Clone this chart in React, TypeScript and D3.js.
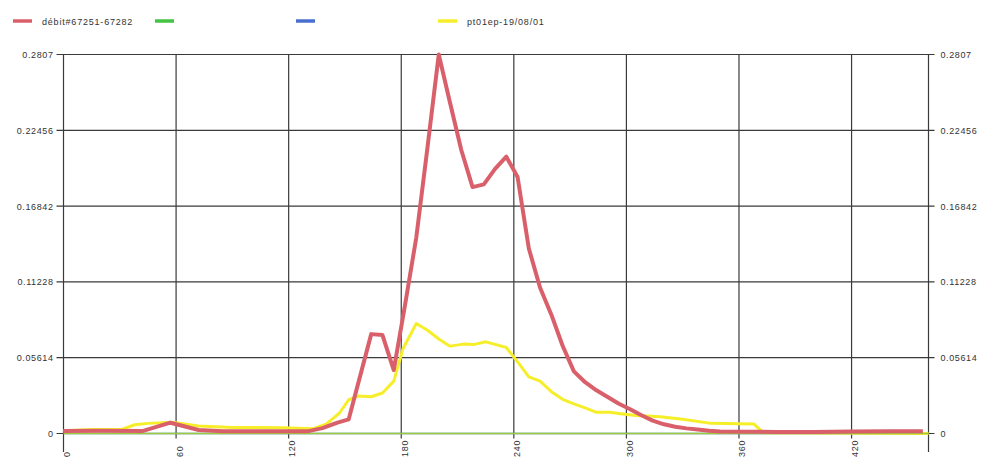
import React from "react";
import * as d3 from "d3";

// ---- data ----
const yTicks = [0, 0.05614, 0.11228, 0.16842, 0.22456, 0.2807];
const yTickLabels = ["0", "0.05614", "0.11228", "0.16842", "0.22456", "0.2807"];
const xTicks = [0, 60, 120, 180, 240, 300, 360, 420];
const xMax = 461;

const legendNames = ["débit#67251-67282", "", "", "pt01ep-19/08/01"];
const seriesColors = ["#d9606a", "#44c444", "#4a6fd0", "#f7ee2a"];

const redX = [0, 20, 42, 57, 72, 85, 130, 138, 146, 152, 164, 170, 176, 182, 188, 194, 200, 206, 212, 218, 224, 230, 236, 242, 248, 254, 260, 266, 272, 278, 284, 290, 296, 302, 308, 314, 320, 326, 332, 338, 344, 350, 380, 400, 420, 440, 458];
const redY = [0.0018, 0.002, 0.0018, 0.008, 0.0026, 0.0016, 0.0016, 0.004, 0.008, 0.0105, 0.0736, 0.0729, 0.047, 0.095, 0.145, 0.212, 0.2807, 0.245, 0.21, 0.1825, 0.1845, 0.196, 0.205, 0.19, 0.137, 0.108, 0.088, 0.065, 0.046, 0.038, 0.032, 0.027, 0.022, 0.018, 0.0135, 0.0095, 0.0068, 0.005, 0.0038, 0.003, 0.002, 0.0015, 0.0012, 0.0012, 0.0015, 0.0016, 0.0016];

const yellowX = [0, 15, 31, 38, 45, 58, 72, 90, 117, 133, 140, 147, 152, 157, 164, 170, 176, 181, 188, 194, 200, 206, 213, 219, 225, 230, 236, 242, 248, 254, 260, 266, 272, 278, 284, 291, 298, 305, 311, 318, 330, 345, 368, 373, 461];
const yellowY = [0.002, 0.003, 0.003, 0.0065, 0.0075, 0.0083, 0.0055, 0.0045, 0.0043, 0.0036, 0.007, 0.015, 0.025, 0.0277, 0.0272, 0.03, 0.0388, 0.063, 0.0815, 0.0765, 0.07, 0.0647, 0.0662, 0.066, 0.0679, 0.066, 0.0637, 0.053, 0.042, 0.0388, 0.031, 0.0253, 0.022, 0.019, 0.0157, 0.0157, 0.0144, 0.0133, 0.013, 0.0124, 0.0105, 0.0075, 0.007, 0.0005, 0];

const greenX = [0, 461];
const greenY = [0, 0];
const blueX = [0, 461];
const blueY = [0, 0];

// ---- layout ----
const W = 981;
const H = 460;
const left = 63.5;
const right = 928.5;
const top = 54.5;
const bottom = 433.5;

const font = "Arial, 'Liberation Sans', sans-serif";
const gridColor = "#3a3a3a";
const textColor = "#333";

export default function App() {
  const x = d3.scaleLinear().domain([0, xMax]).range([left, right]);
  const y = d3.scaleLinear().domain([0, 0.2807]).range([bottom, top]);

  const mk = (xs: number[], ys: number[]) =>
    d3
      .line<number>()
      .x((_, i) => x(xs[i]))
      .y((d) => y(d))(ys) || "";

  const legendX = [13, 155, 296, 438];

  return (
    <svg
      width={W}
      height={H}
      style={{ position: "absolute", left: 0, top: 0, background: "#fff" }}
      fontFamily={font}
    >
      <rect x={0} y={0} width={W} height={H} fill="#fff" />
      {/* legend */}
      {legendNames.map((n, i) => (
        <g key={i}>
          <line
            x1={legendX[i]}
            x2={legendX[i] + 19}
            y1={21}
            y2={21}
            stroke={seriesColors[i]}
            strokeWidth={3.5}
          />
          {n && (
            <text
              x={legendX[i] + 29}
              y={24.5}
              fontSize={9}
              letterSpacing={0.8}
              fill={textColor}
            >
              {n}
            </text>
          )}
        </g>
      ))}

      {/* horizontal grid + y ticks */}
      {yTicks.map((t, i) => (
        <g key={i}>
          <line
            x1={left - 7}
            x2={right + 6}
            y1={y(t)}
            y2={y(t)}
            stroke={gridColor}
            strokeWidth={1.2}
          />
          <text
            x={left - 10}
            y={y(t) + 3.5}
            fontSize={9}
            letterSpacing={0.6}
            textAnchor="end"
            fill={textColor}
          >
            {yTickLabels[i]}
          </text>
          <text
            x={right + 12}
            y={y(t) + 3.5}
            fontSize={9}
            letterSpacing={0.6}
            fill={textColor}
          >
            {yTickLabels[i]}
          </text>
        </g>
      ))}

      {/* vertical grid + x ticks */}
      {xTicks.map((t, i) => (
        <g key={i}>
          <line
            x1={x(t)}
            x2={x(t)}
            y1={top}
            y2={t === 0 ? 452 : bottom + 5}
            stroke={gridColor}
            strokeWidth={1.2}
          />
          <text
            transform={`translate(${x(t) + 6.5},457) rotate(-90)`}
            fontSize={9}
            letterSpacing={0.8}
            fill={textColor}
          >
            {t}
          </text>
        </g>
      ))}
      <line x1={right} x2={right} y1={top} y2={452} stroke={gridColor} strokeWidth={1.2} />

      {/* series */}
      <path d={mk(blueX, blueY)} fill="none" stroke={seriesColors[2]} strokeWidth={1.5} />
      <path
        d={mk(yellowX, yellowY)}
        fill="none"
        stroke={seriesColors[3]}
        strokeWidth={3}
        strokeLinejoin="round"
      />
      <path d={mk(greenX, greenY)} fill="none" stroke="#9ccc3c" strokeWidth={1.5} />
      <path
        d={mk(redX, redY)}
        fill="none"
        stroke={seriesColors[0]}
        strokeWidth={4}
        strokeLinejoin="round"
      />
    </svg>
  );
}
